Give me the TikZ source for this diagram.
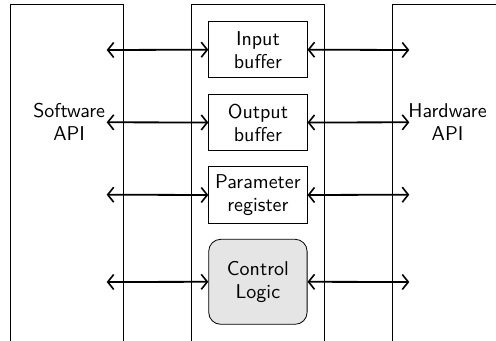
\documentclass[tikz,border=0pt]{standalone}
\usetikzlibrary{arrows.meta}
\begin{document}
\begin{tikzpicture}[x=0.5pt,y=-0.5pt,
  font=\sffamily\fontsize{10}{11.5}\selectfont,
  unit/.style={draw, minimum width=49.2pt, align=center, inner sep=0pt},
  ctrl/.style={unit, fill=gray!20, rounded corners=6pt},
  link/.style={{Straight Barb[length=3pt,width=7.5pt,line width=0.8pt]}-{Straight Barb[length=3pt,width=7.5pt,line width=0.8pt]}, line width=0.9pt},
  lbl/.style={align=center, inner sep=0pt}]
\useasboundingbox (0,0) rectangle (496,341);
\begin{scope}
  \clip (10,4) rectangle (496,341);
  \draw (10,4) rectangle (123,380);
  \draw (191,4) rectangle (324.5,380);
  \draw (392.5,4) rectangle (540,380);
\end{scope}
\node[unit, minimum height=28pt] (inbuf) at (257.9,49.7) {Input\\buffer};
\node[unit, minimum height=28.2pt] (outbuf) at (257.9,122.5) {Output\\buffer};
\node[unit, minimum height=28.3pt] (param) at (257.9,195) {Parameter\\register};
\node[ctrl, minimum height=42.5pt] (ctrl) at (257.9,281.8) {Control\\Logic};
\coordinate (s1) at (106.7,50);
\coordinate (s2) at (106.7,122.3);
\coordinate (s3) at (106.7,194.7);
\coordinate (s4) at (106.7,282);
\coordinate (h1) at (409.3,50);
\coordinate (h2) at (409.3,122.3);
\coordinate (h3) at (409.3,194.7);
\coordinate (h4) at (409.3,282);
\draw[link] (s1) -- (inbuf.west);
\draw[link] (s2) -- (outbuf.west);
\draw[link] (s3) -- (param.west);
\draw[link] (s4) -- (ctrl.west);
\draw[link] (inbuf.east) -- (h1);
\draw[link] (outbuf.east) -- (h2);
\draw[link] (param.east) -- (h3);
\draw[link] (ctrl.east) -- (h4);
\node[lbl, anchor=east] (sw) at (105.5,122) {Software\\API};
\node[lbl, anchor=west] (hw) at (408,122) {Hardware\\API};
\end{tikzpicture}
\end{document}
